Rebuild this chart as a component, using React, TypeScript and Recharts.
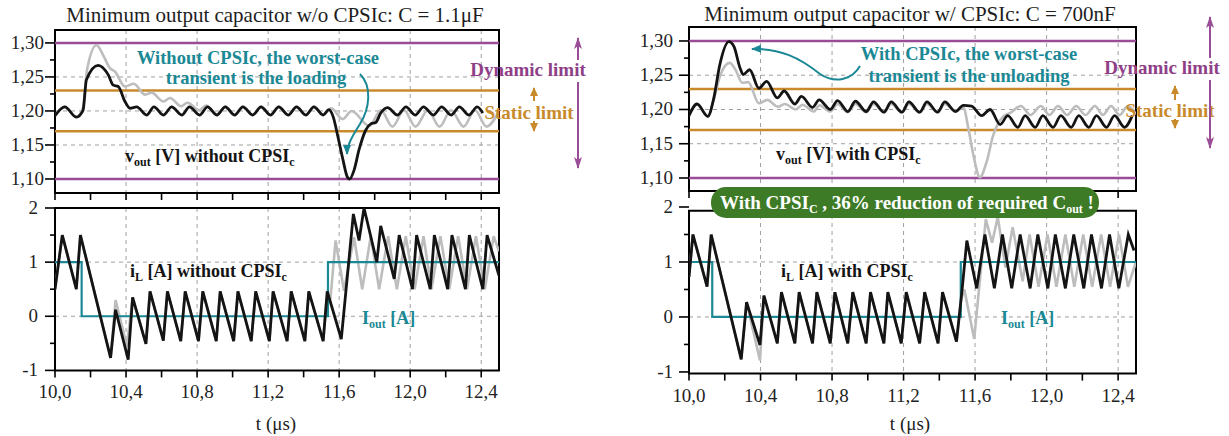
import React from 'react';
import { LineChart, Line, XAxis, YAxis, CartesianGrid, ReferenceLine, ReferenceArea } from 'recharts';

// axes
const timeTicks = [10, 10.2, 10.4, 10.6, 10.8, 11, 11.2, 11.4, 11.6, 11.8, 12, 12.2, 12.4];
const timeGrid = [10.4, 10.8, 11.2, 11.6, 12, 12.4];
const voltTicks = [1.1, 1.125, 1.15, 1.175, 1.2, 1.225, 1.25, 1.275, 1.3];
const voltGrid = [1.15, 1.2, 1.25];
const currentTicks = [-1, -0.5, 0, 0.5, 1, 1.5, 2];
const currentGrid = [0, 1];
const dynamicLimit = [1.1, 1.3];
const staticLimit = [1.17, 1.23];

// v_out without CPSIc, C = 1.1uF  [t (us), V]
const voutNoCpsi = [
  [10.0, 1.193], [10.055, 1.206], [10.12, 1.191], [10.158, 1.201], [10.177, 1.246], [10.243, 1.267],
  [10.3, 1.253], [10.328, 1.238], [10.356, 1.236], [10.394, 1.214], [10.422, 1.204], [10.46, 1.206],
  [10.516, 1.194], [10.557, 1.206], [10.61, 1.194], [10.657, 1.206], [10.714, 1.194], [10.757, 1.206],
  [10.814, 1.194], [10.859, 1.206], [10.911, 1.194], [10.959, 1.206], [11.011, 1.194], [11.058, 1.206],
  [11.113, 1.194], [11.16, 1.206], [11.213, 1.194], [11.26, 1.206], [11.313, 1.194], [11.36, 1.206],
  [11.412, 1.194], [11.458, 1.206], [11.51, 1.194], [11.542, 1.202], [11.567, 1.191], [11.593, 1.162],
  [11.62, 1.13], [11.646, 1.103], [11.659, 1.1], [11.684, 1.113], [11.712, 1.143], [11.75, 1.172],
  [11.778, 1.181], [11.806, 1.183], [11.834, 1.197], [11.872, 1.205], [11.928, 1.194], [11.976, 1.206],
  [12.028, 1.194], [12.075, 1.206], [12.13, 1.194], [12.177, 1.206], [12.23, 1.194], [12.277, 1.206],
  [12.33, 1.194], [12.377, 1.206], [12.409, 1.197],
];
const voutNoCpsiRef = [
  [10.0, 1.193], [10.055, 1.206], [10.12, 1.191], [10.158, 1.205], [10.18, 1.26], [10.234, 1.297],
  [10.271, 1.282], [10.309, 1.263], [10.337, 1.258], [10.394, 1.236], [10.444, 1.24], [10.507, 1.224],
  [10.544, 1.227], [10.61, 1.214], [10.648, 1.219], [10.71, 1.207], [10.746, 1.212], [10.812, 1.201],
  [10.85, 1.208], [10.911, 1.195], [10.959, 1.206], [11.011, 1.194], [11.058, 1.206], [11.113, 1.194],
  [11.16, 1.206], [11.213, 1.194], [11.26, 1.206], [11.313, 1.194], [11.36, 1.206], [11.412, 1.194],
  [11.458, 1.206], [11.51, 1.194], [11.555, 1.204], [11.62, 1.188], [11.67, 1.2], [11.77, 1.178],
  [11.835, 1.201], [11.9, 1.177], [11.965, 1.201], [12.03, 1.177], [12.1, 1.201], [12.165, 1.177],
  [12.23, 1.201], [12.3, 1.177], [12.365, 1.201], [12.43, 1.177], [12.5, 1.2],
];

// i_L without CPSIc [t, A]
const iLNoCpsi = [
  [10.0, 0.5], [10.041, 1.5], [10.12, 0.5], [10.143, 1.5], [10.313, -0.77], [10.341, 0.12],
  [10.412, -0.8], [10.437, 0.35], [10.512, -0.51], [10.535, 0.46], [10.61, -0.45], [10.633, 0.46],
  [10.708, -0.46], [10.733, 0.46], [10.808, -0.46], [10.832, 0.46], [10.908, -0.46], [10.93, 0.46],
  [11.006, -0.46], [11.03, 0.46], [11.105, -0.46], [11.13, 0.46], [11.207, -0.46], [11.228, 0.46],
  [11.307, -0.46], [11.33, 0.46], [11.407, -0.46], [11.429, 0.46], [11.51, -0.46], [11.533, 0.46],
  [11.612, -0.42], [11.68, 1.89], [11.712, 1.4], [11.74, 2.0], [11.812, 1.0], [11.834, 1.67],
  [11.91, 0.69], [11.938, 1.5], [12.013, 0.5], [12.036, 1.5], [12.113, 0.5], [12.136, 1.5],
  [12.211, 0.5], [12.235, 1.5], [12.311, 0.5], [12.333, 1.5], [12.409, 0.5], [12.433, 1.5], [12.5, 0.75],
];
const iLNoCpsiRef = [
  [10.0, 0.5], [10.041, 1.5], [10.12, 0.5], [10.143, 1.5], [10.313, -0.77], [10.341, 0.3],
  [10.405, -0.55], [10.437, 0.35], [10.512, -0.51], [10.535, 0.46], [10.61, -0.45], [10.633, 0.46],
  [10.708, -0.46], [10.733, 0.46], [10.808, -0.46], [10.832, 0.46], [10.908, -0.46], [10.93, 0.46],
  [11.006, -0.46], [11.03, 0.46], [11.105, -0.46], [11.13, 0.46], [11.207, -0.46], [11.228, 0.46],
  [11.307, -0.46], [11.33, 0.46], [11.407, -0.46], [11.429, 0.46], [11.51, -0.46], [11.533, 0.46],
  [11.55, 0.3], [11.58, 1.4], [11.627, 0.47], [11.684, 1.46], [11.73, 0.5], [11.778, 1.48],
  [11.825, 0.5], [11.876, 1.48], [11.925, 0.5], [11.975, 1.48], [12.025, 0.5], [12.075, 1.48],
  [12.12, 0.5], [12.17, 1.48], [12.22, 0.5], [12.27, 1.48], [12.32, 0.5], [12.37, 1.48],
  [12.42, 0.5], [12.47, 1.48], [12.5, 1.2],
];
const ioutNoCpsi = [[10, 1], [10.15, 0], [11.537, 1], [12.5, 1]];

// v_out with CPSIc, C = 700nF
const voutCpsi = [
  [10.0, 1.191], [10.045, 1.208], [10.105, 1.19], [10.139, 1.217], [10.172, 1.265], [10.223, 1.299],
  [10.251, 1.292], [10.285, 1.261], [10.303, 1.251], [10.339, 1.258], [10.391, 1.231], [10.434, 1.241],
  [10.494, 1.217], [10.532, 1.227], [10.592, 1.208], [10.629, 1.219], [10.691, 1.203], [10.728, 1.214],
  [10.79, 1.2], [10.831, 1.213], [10.888, 1.197], [10.931, 1.212], [10.991, 1.197], [11.032, 1.211],
  [11.09, 1.196], [11.131, 1.211], [11.191, 1.196], [11.23, 1.211], [11.29, 1.196], [11.331, 1.211],
  [11.39, 1.196], [11.431, 1.211], [11.491, 1.197], [11.534, 1.206], [11.58, 1.205], [11.637, 1.191],
  [11.684, 1.2], [11.74, 1.178], [11.783, 1.191], [11.839, 1.174], [11.88, 1.191], [11.936, 1.174],
  [11.979, 1.191], [12.036, 1.174], [12.08, 1.191], [12.137, 1.174], [12.18, 1.191], [12.236, 1.174],
  [12.279, 1.191], [12.335, 1.174], [12.38, 1.191], [12.436, 1.174], [12.479, 1.191],
];
const voutCpsiRef = [
  [10.0, 1.191], [10.045, 1.208], [10.105, 1.19], [10.139, 1.215], [10.175, 1.25], [10.228, 1.268],
  [10.26, 1.258], [10.298, 1.239], [10.331, 1.24], [10.391, 1.209], [10.438, 1.214], [10.498, 1.204],
  [10.536, 1.208], [10.597, 1.2], [10.635, 1.207], [10.697, 1.197], [10.73, 1.206], [10.79, 1.197],
  [10.831, 1.208], [10.888, 1.196], [10.931, 1.208], [10.991, 1.196], [11.032, 1.208], [11.09, 1.196],
  [11.131, 1.208], [11.191, 1.196], [11.23, 1.208], [11.29, 1.196], [11.331, 1.208], [11.39, 1.196],
  [11.431, 1.208], [11.491, 1.197], [11.534, 1.203], [11.562, 1.173], [11.59, 1.134], [11.627, 1.101],
  [11.665, 1.124], [11.702, 1.163], [11.73, 1.18], [11.758, 1.19], [11.796, 1.195], [11.856, 1.205],
  [11.91, 1.192], [11.968, 1.205], [12.016, 1.192], [12.064, 1.205], [12.115, 1.192], [12.165, 1.205],
  [12.218, 1.192], [12.27, 1.205], [12.315, 1.192], [12.36, 1.205], [12.408, 1.192], [12.455, 1.205],
  [12.5, 1.193],
];

// i_L with CPSIc
const iLCpsi = [
  [10.0, 0.73], [10.022, 1.5], [10.101, 0.55], [10.124, 1.5], [10.292, -0.77], [10.322, 0.27],
  [10.397, -0.51], [10.419, 0.39], [10.494, -0.48], [10.517, 0.45], [10.592, -0.48], [10.616, 0.45],
  [10.691, -0.48], [10.715, 0.45], [10.79, -0.48], [10.816, 0.45], [10.888, -0.48], [10.916, 0.45],
  [10.991, -0.48], [11.015, 0.45], [11.09, -0.48], [11.112, 0.45], [11.187, -0.48], [11.215, 0.45],
  [11.29, -0.48], [11.318, 0.45], [11.393, -0.48], [11.418, 0.45], [11.496, -0.45], [11.521, 0.3],
  [11.528, 0.52], [11.554, 1.39], [11.609, 0.52], [11.655, 1.5], [11.708, 0.52], [11.753, 1.5],
  [11.805, 0.52], [11.852, 1.5], [11.908, 0.52], [11.951, 1.5], [12.007, 0.52], [12.049, 1.5],
  [12.105, 0.52], [12.152, 1.5], [12.208, 0.52], [12.251, 1.5], [12.307, 0.52], [12.352, 1.5],
  [12.404, 0.52], [12.457, 1.5], [12.489, 1.21],
];
const iLCpsiRef = [
  [10.0, 0.73], [10.022, 1.5], [10.101, 0.55], [10.124, 1.5], [10.292, -0.77], [10.322, 0.27],
  [10.397, -0.79], [10.419, 0.39], [10.494, -0.48], [10.517, 0.45], [10.592, -0.48], [10.616, 0.45],
  [10.691, -0.48], [10.715, 0.45], [10.79, -0.48], [10.816, 0.45], [10.888, -0.48], [10.916, 0.45],
  [10.991, -0.48], [11.015, 0.45], [11.09, -0.48], [11.112, 0.45], [11.187, -0.48], [11.215, 0.45],
  [11.29, -0.48], [11.318, 0.45], [11.393, -0.48], [11.418, 0.45], [11.496, -0.45], [11.521, 0.3],
  [11.54, 0.5], [11.595, -0.4], [11.66, 1.78], [11.695, 1.35], [11.727, 1.82], [11.77, 0.9],
  [11.81, 1.63], [11.866, 0.65], [11.905, 1.5], [11.955, 0.55], [12.005, 1.5], [12.055, 0.55],
  [12.105, 1.5], [12.155, 0.55], [12.205, 1.5], [12.255, 0.55], [12.305, 1.5], [12.355, 0.55],
  [12.405, 1.5], [12.455, 0.55], [12.5, 1.0],
];
const ioutCpsi = [[10, 1], [10.13, 0], [11.52, 1], [12.5, 1]];

const FONT = '"Liberation Serif", "Times New Roman", serif';
const INK = '#141414';
const GRAY = '#bdbdbd';
const TEAL = '#1b8895';
const PURPLE = '#9a4d96';
const PURPLE_TXT = '#8f3f88';
const ORANGE = '#c98a2c';
const GRID = '#a0a0a0';
const GREEN = '#3e7b27';

const pts = (rows: number[][]) => rows.map(([t, v]) => ({ t, v }));

type Series = { rows: number[][]; color: string; width: number; curve: 'monotone' | 'linear' | 'stepAfter' };

const fmtTime = (v: number) => v.toFixed(1).replace('.', ',');
const fmtVolt = (v: number) => v.toFixed(2).replace('.', ',');
const fmtAmp = (v: number) => String(v);
const voltMajor = (v: number) => Math.round(v * 1000) % 50 === 0;
const ampMajor = (v: number) => Number.isInteger(v);

function Subplot(props: {
  left: number; top: number; width: number; height: number;
  yDomain: [number, number]; yTicks: number[]; yMajor: (v: number) => boolean; yFormat: (v: number) => string;
  yGap: number; hGrid: number[]; frame: [number, number]; showX: boolean; limits: boolean; series: Series[];
}) {
  const { left, top, width, height, yDomain, yTicks, yMajor, yFormat, yGap, hGrid, frame, showX, limits, series } = props;
  const xh = showX ? 50 : 14;

  const xTick = (p: any) => {
    const axisY = p.y - 12;
    const v = p.payload.value;
    const major = Math.round(v * 10) % 4 === 0;
    return (
      <g>
        <line x1={p.x} x2={p.x} y1={axisY} y2={axisY + 7} stroke="#000" strokeWidth={1.6} />
        {showX && major && (
          <text x={p.x} y={axisY + 28} textAnchor="middle" fontFamily={FONT} fontSize={19} fill="#222">{fmtTime(v)}</text>
        )}
      </g>
    );
  };
  const yTick = (p: any) => {
    const axisX = p.x + 15;
    const v = p.payload.value;
    const major = yMajor(v);
    return (
      <g>
        <line x1={axisX - (major ? 10 : 5)} x2={axisX} y1={p.y} y2={p.y} stroke="#000" strokeWidth={1.6} />
        {major && (
          <text x={axisX - yGap} y={p.y + 6} textAnchor="end" fontFamily={FONT} fontSize={19} fill="#222">{yFormat(v)}</text>
        )}
      </g>
    );
  };

  return (
    <div style={{ position: 'absolute', left: left - 60, top: top - 10 }}>
      <LineChart width={width + 70} height={height + 10 + xh} margin={{ top: 10, right: 10, bottom: 0, left: 0 }}>
        <CartesianGrid stroke={GRID} strokeDasharray="4 4" strokeWidth={1} horizontalValues={hGrid} verticalValues={timeGrid} />
        <XAxis dataKey="t" type="number" domain={[10, 12.5]} ticks={timeTicks} interval={0} allowDataOverflow
          axisLine={false} tickLine={false} tickSize={6} tickMargin={6} height={xh} tick={xTick} />
        <YAxis type="number" domain={yDomain} ticks={yTicks} interval={0} allowDataOverflow
          axisLine={false} tickLine={false} tickSize={10} tickMargin={5} width={60} tick={yTick} />
        {limits && dynamicLimit.map((y) => (
          <ReferenceLine key={`d${y}`} y={y} stroke={PURPLE} strokeWidth={2.5} />
        ))}
        {limits && staticLimit.map((y) => (
          <ReferenceLine key={`s${y}`} y={y} stroke={ORANGE} strokeWidth={2.5} />
        ))}
        {series.map((s, i) => (
          <Line key={i} data={pts(s.rows)} dataKey="v" type={s.curve} stroke={s.color} strokeWidth={s.width}
            dot={false} activeDot={false} isAnimationActive={false} />
        ))}
        <ReferenceArea x1={10} x2={12.5} y1={frame[0]} y2={frame[1]} fill="none" stroke="#000" strokeWidth={2} ifOverflow="visible" />
      </LineChart>
    </div>
  );
}

function Sub({ children }: { children: React.ReactNode }) {
  return <tspan dy={4} fontSize={12}>{children}</tspan>;
}

function Overlay() {
  const bold = { fontFamily: FONT, fontWeight: 700, fontSize: 19 } as const;
  const note = { fontFamily: FONT, fontWeight: 700, fontSize: 18.5 } as const;
  const label = { fontFamily: FONT, fontWeight: 700, fontSize: 18 } as const;
  const reg = { fontFamily: FONT, fontSize: 21, fill: '#1e1e1e' } as const;
  return (
    <svg width={1229} height={436} style={{ position: 'absolute', left: 0, top: 0, pointerEvents: 'none' }}>
      <defs>
        <marker id="tealHead" viewBox="0 0 10 10" refX="9" refY="5" markerWidth="10" markerHeight="10" markerUnits="userSpaceOnUse" orient="auto">
          <path d="M0,1 L10,5 L0,9 z" fill={TEAL} />
        </marker>
        <marker id="purpleHead" viewBox="0 0 12 8" refX="11" refY="4" markerWidth="12" markerHeight="8" markerUnits="userSpaceOnUse" orient="auto">
          <path d="M0,0 L12,4 L0,8 L3,4 z" fill={PURPLE} />
        </marker>
        <marker id="orangeHead" viewBox="0 0 10 9" refX="9" refY="4.5" markerWidth="9" markerHeight="9" markerUnits="userSpaceOnUse" orient="auto">
          <path d="M0,0 L10,4.5 L0,9 z" fill={ORANGE} />
        </marker>
      </defs>

      {/* titles */}
      <text x={275} y={21.5} textAnchor="middle" {...reg}>Minimum output capacitor w/o CPSIc:  C = 1.1μF</text>
      <text x={910} y={21} textAnchor="middle" {...reg}>Minimum output capacitor w/ CPSIc:  C = 700nF</text>

      {/* left annotations */}
      <text x={258} y={63.5} textAnchor="middle" {...note} fill={TEAL}>Without CPSIc, the worst-case</text>
      <text x={256} y={84} textAnchor="middle" {...note} fill={TEAL}>transient is the loading</text>
      <path d="M 360 74 C 372 86, 370 108, 360 124 C 351 138, 347 146, 347 154" fill="none" stroke={TEAL} strokeWidth={2} markerEnd="url(#tealHead)" />
      <text x={125} y={161.5} {...label} fill={INK}>v<Sub>out</Sub><tspan dy={-4}> [V] without CPSI</tspan><Sub>c</Sub></text>
      <text x={528} y={76} textAnchor="middle" {...bold} fill={PURPLE_TXT}>Dynamic limit</text>
      <text x={529} y={118.5} textAnchor="middle" {...bold} fill={ORANGE}>Static limit</text>
      <line x1={578} x2={578} y1={60} y2={38} stroke={PURPLE} strokeWidth={2} markerEnd="url(#purpleHead)" />
      <line x1={578} x2={578} y1={82} y2={168} stroke={PURPLE} strokeWidth={2} markerEnd="url(#purpleHead)" />
      <line x1={534} x2={534} y1={101} y2={88} stroke={ORANGE} strokeWidth={2} markerEnd="url(#orangeHead)" />
      <line x1={534} x2={534} y1={121} y2={131} stroke={ORANGE} strokeWidth={2} markerEnd="url(#orangeHead)" />
      <text x={130} y={276.5} {...label} fill={INK}>i<Sub>L</Sub><tspan dy={-4}> [A] without CPSI</tspan><Sub>c</Sub></text>
      <text x={362} y={323.5} {...label} fill={TEAL}>I<Sub>out</Sub><tspan dy={-4}> [A]</tspan></text>
      <text x={276} y={430} textAnchor="middle" fontFamily={FONT} fontSize={19} fill="#222">t (μs)</text>

      {/* right annotations */}
      <text x={969} y={60} textAnchor="middle" {...note} fill={TEAL}>With CPSIc, the worst-case</text>
      <text x={969} y={81.5} textAnchor="middle" {...note} fill={TEAL}>transient is the unloading</text>
      <path d="M 860 66 C 852 80, 835 84, 820 74 C 800 58, 780 48, 752 49" fill="none" stroke={TEAL} strokeWidth={2} markerEnd="url(#tealHead)" />
      <text x={776} y={159.5} {...label} fill={INK}>v<Sub>out</Sub><tspan dy={-4}> [V] with CPSI</tspan><Sub>c</Sub></text>
      <text x={1162} y={74} textAnchor="middle" {...bold} fill={PURPLE_TXT}>Dynamic limit</text>
      <text x={1170} y={116.5} textAnchor="middle" {...bold} fill={ORANGE}>Static limit</text>
      <line x1={1210} x2={1210} y1={58} y2={17} stroke={PURPLE} strokeWidth={2} markerEnd="url(#purpleHead)" />
      <line x1={1210} x2={1210} y1={80} y2={148} stroke={PURPLE} strokeWidth={2} markerEnd="url(#purpleHead)" />
      <line x1={1175} x2={1175} y1={100} y2={86} stroke={ORANGE} strokeWidth={2} markerEnd="url(#orangeHead)" />
      <line x1={1175} x2={1175} y1={119} y2={128} stroke={ORANGE} strokeWidth={2} markerEnd="url(#orangeHead)" />
      <rect x={711} y={187} width={388} height={31} rx={15} fill={GREEN} />
      <text x={720} y={209} fontFamily={FONT} fontWeight={700} fontSize={19} fill="#fff">
        With CPSI<Sub>C</Sub><tspan dy={-4}> , 36% reduction of required C</tspan><Sub>out</Sub><tspan dy={-4}> !</tspan>
      </text>
      <text x={781} y={276.5} {...label} fill={INK}>i<Sub>L</Sub><tspan dy={-4}> [A] with CPSI</tspan><Sub>c</Sub></text>
      <text x={1001} y={323.5} {...label} fill={TEAL}>I<Sub>out</Sub><tspan dy={-4}> [A]</tspan></text>
      <text x={910} y={430} textAnchor="middle" fontFamily={FONT} fontSize={19} fill="#222">t (μs)</text>
    </svg>
  );
}

export default function App() {
  return (
    <div style={{ position: 'absolute', left: 0, top: 0, width: 1229, height: 436, background: '#fff', overflow: 'hidden' }}>
      <Subplot left={55} top={30} width={444} height={163} yDomain={[1.0794, 1.319]} yTicks={voltTicks}
        yMajor={voltMajor} yFormat={fmtVolt} yGap={11} hGrid={voltGrid} frame={[1.0794, 1.319]} showX={false} limits
        series={[
          { rows: voutNoCpsiRef, color: GRAY, width: 2.6, curve: 'monotone' },
          { rows: voutNoCpsi, color: INK, width: 2.8, curve: 'monotone' },
        ]} />
      <Subplot left={55} top={208.3} width={444} height={162.4} yDomain={[-1, 2]} yTicks={currentTicks}
        yMajor={ampMajor} yFormat={fmtAmp} yGap={17} hGrid={currentGrid} frame={[-1, 2]} showX limits={false}
        series={[
          { rows: iLNoCpsiRef, color: GRAY, width: 2.6, curve: 'linear' },
          { rows: ioutNoCpsi, color: TEAL, width: 2.2, curve: 'stepAfter' },
          { rows: iLNoCpsi, color: INK, width: 2.8, curve: 'linear' },
        ]} />
      <Subplot left={689} top={27} width={447} height={164} yDomain={[1.081, 1.3204]} yTicks={voltTicks}
        yMajor={voltMajor} yFormat={fmtVolt} yGap={16} hGrid={voltGrid} frame={[1.081, 1.3204]} showX={false} limits
        series={[
          { rows: voutCpsiRef, color: GRAY, width: 2.6, curve: 'monotone' },
          { rows: voutCpsi, color: INK, width: 2.8, curve: 'monotone' },
        ]} />
      <Subplot left={689} top={206.7} width={447} height={166.6} yDomain={[-1.03, 2]} yTicks={currentTicks}
        yMajor={ampMajor} yFormat={fmtAmp} yGap={16} hGrid={currentGrid} frame={[-1.03, 1.93]} showX limits={false}
        series={[
          { rows: iLCpsiRef, color: GRAY, width: 2.6, curve: 'linear' },
          { rows: ioutCpsi, color: TEAL, width: 2.2, curve: 'stepAfter' },
          { rows: iLCpsi, color: INK, width: 2.8, curve: 'linear' },
        ]} />
      <Overlay />
    </div>
  );
}
